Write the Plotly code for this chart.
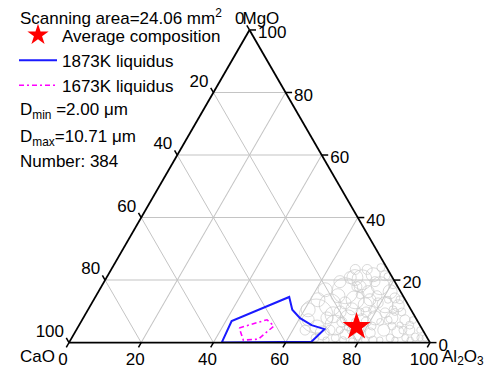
import math
import plotly.graph_objects as go

FONT = "Liberation Sans, Arial, sans-serif"
FS = 17
W, H = 490, 373

# triangle placement on the page (px)
TRI_L, TRI_R, TRI_B = 69.0, 430.0, 342.6
TRI_W = TRI_R - TRI_L
TRI_H = TRI_W * math.sqrt(3) / 2
PX = TRI_W / 100.0  # px per composition unit

# Tick values used on all three edges (wt%)
TICKS = [0, 20, 40, 60, 80, 100]

# Liquidus boundaries, wt% (MgO, Al2O3); CaO is the balance
liq1873_mgo = [0.0, 6.9, 14.6, 10.5, 7.8, 5.6, 4.3, 0.3, 0.0]
liq1873_al2o3 = [42.3, 41.6, 53.7, 56.6, 60.1, 64.4, 68.6, 67.0, 42.3]
liq1673_mgo = [4.7, 7.3, 5.3, 1.1, 0.8, 4.7]
liq1673_al2o3 = [44.8, 51.2, 54.1, 51.9, 47.9, 44.8]

# Average inclusion composition
avg_mgo = [5.1]
avg_al2o3 = [77.1]

# Individual inclusions: MgO, Al2O3 (wt%) and equivalent diameter (um)
incl_mgo = [8.5, 16.6, 12.1, 20.1, 18.2, 21.7, 13.7, 5.6, 3.1, 7.9,
            12.1, 16.3, 12.1, 11.8, 7.9, 7.9, 7.3, 4.0, 3.4, 4.0,
            3.1, 2.4, 2.7, 1.5, 1.5, 4.0, 7.3, 10.8, 9.8, 16.3,
            17.9, 14.3, 9.8, 1.8, 1.5, 1.5, 1.5, 0.8, 0.8, 0.5,
            7.9, 13.7, 15.0, 20.8, 21.4, 15.0, 9.8, 6.6, 9.5, 5.6,
            5.3, 5.3, 4.7, 5.0, 0.8, 7.3, 13.7, 18.5, 24.0, 23.4,
            23.4, 10.5, 6.6, 9.8, 6.6, 4.0, 4.0, 5.6, 13.7, 15.3,
            10.5, 16.9, 19.5, 4.0, 4.0, 6.6, 12.7, 9.8, 7.2, 4.0,
            0.8, 0.8, 0.8, 0.8, 21.1, 19.5, 12.7, 17.9, 13.7, 10.5,
            7.2, 1.5, 5.0, 8.9, 20.8]
incl_al2o3 = [64.2, 68.2, 66.3, 71.1, 77.1, 73.4, 72.4, 70.9, 68.6, 73.4,
              76.0, 80.8, 81.5, 85.3, 80.8, 85.5, 89.4, 92.4, 89.4, 85.2,
              81.9, 78.8, 75.1, 73.0, 67.4, 63.4, 77.5, 73.0, 70.2, 74.7,
              70.8, 83.1, 87.3, 95.0, 96.5, 92.4, 88.2, 85.7, 81.6, 78.1,
              67.5, 62.1, 67.0, 67.5, 76.8, 77.8, 77.4, 72.3, 82.8, 91.6,
              81.3, 86.8, 78.3, 74.8, 70.8, 62.6, 84.8, 80.5, 74.4, 70.9,
              67.6, 78.7, 82.9, 85.4, 75.9, 73.0, 95.2, 88.9, 81.5, 73.0,
              61.0, 62.5, 65.3, 70.3, 76.4, 79.0, 79.3, 75.7, 84.8, 90.5,
              89.9, 94.1, 83.8, 75.5, 77.8, 75.0, 70.1, 71.7, 76.5, 84.5,
              91.7, 97.9, 66.2, 68.7, 68.8]
incl_d = [10.71, 8.20, 6.94, 6.31, 5.68, 4.42, 5.68, 6.31, 4.42, 5.05,
          4.42, 4.42, 5.05, 3.79, 4.42, 3.79, 3.15, 3.15, 3.79, 3.79,
          3.15, 3.15, 3.15, 2.52, 2.52, 3.15, 3.79, 3.79, 3.79, 3.79,
          3.15, 3.15, 2.52, 2.52, 2.00, 2.20, 2.52, 2.00, 2.20, 2.00,
          3.79, 4.42, 4.42, 3.79, 3.15, 3.15, 3.15, 3.15, 3.15, 2.52,
          2.52, 2.52, 2.52, 2.52, 2.00, 3.79, 2.52, 2.52, 2.52, 3.15,
          3.15, 2.20, 2.20, 2.20, 2.20, 2.20, 2.00, 2.00, 2.20, 2.52,
          4.42, 4.42, 3.79, 3.15, 3.15, 3.15, 3.15, 2.52, 2.52, 2.52,
          2.00, 2.00, 2.52, 2.20, 2.52, 3.15, 3.79, 3.79, 3.79, 2.52,
          2.20, 2.00, 4.42, 5.05, 5.05]

PX_PER_UM = 3.17  # marker diameter in px per um


def balance(mgo, al2o3):
    return [100 - m - a for m, a in zip(mgo, al2o3)]


def flat(mgo, al2o3):
    """Ternary composition -> flat frame (x along CaO-Al2O3 edge, y up)."""
    return al2o3 + mgo / 2.0, mgo * math.sqrt(3) / 2.0


fig = go.Figure()

# inclusions as open circles scaled by diameter
fig.add_trace(go.Scatterternary(
    a=incl_mgo, c=incl_al2o3, b=balance(incl_mgo, incl_al2o3),
    mode="markers", showlegend=False, hoverinfo="skip",
    marker=dict(symbol="circle-open", size=[d * PX_PER_UM for d in incl_d],
                color="#cbcbcb", line=dict(width=1, color="#cbcbcb")),
))

fig.add_trace(go.Scatterternary(
    a=liq1873_mgo, c=liq1873_al2o3, b=balance(liq1873_mgo, liq1873_al2o3),
    mode="lines", name="1873K liquidus", legendrank=2,
    line=dict(color="#1a1aff", width=2),
))
fig.add_trace(go.Scatterternary(
    a=liq1673_mgo, c=liq1673_al2o3, b=balance(liq1673_mgo, liq1673_al2o3),
    mode="lines", name="1673K liquidus", legendrank=3,
    line=dict(color="#ff00ff", width=1.6, dash="5px,3px,2px,3px"),
))
fig.add_trace(go.Scatterternary(
    a=avg_mgo, c=avg_al2o3, b=balance(avg_mgo, avg_al2o3),
    mode="markers", name="Average composition", legendrank=1,
    marker=dict(symbol="star", size=21, color="#ff0000", line=dict(width=0)),
))

# ---- edge scales drawn in a flat frame that shares the triangle geometry ----
s3 = math.sqrt(3) / 2.0
tl = 1.5  # tick length, composition units
tx, ty = [], []
for v in TICKS:
    # left edge (CaO scale), tick continues the iso-CaO line
    x, y = flat(100 - v, 0)
    tx += [x, x - 0.5 * tl, None]; ty += [y, y + s3 * tl, None]
    # bottom edge (Al2O3 scale), tick continues the iso-Al2O3 line
    x, y = flat(0, v)
    tx += [x, x - 0.5 * tl, None]; ty += [y, y - s3 * tl, None]
    # right edge (MgO scale), tick continues the iso-MgO line
    x, y = flat(v, 100 - v)
    tx += [x, x + 1.2 * tl, None]; ty += [y, y, None]
fig.add_trace(go.Scatter(
    x=tx, y=ty, mode="lines", showlegend=False, hoverinfo="skip",
    line=dict(color="black", width=1.5), cliponaxis=False,
))

tfont = dict(family=FONT, size=FS, color="black")
lab = [str(v) for v in TICKS]


def text_trace(pts, texts, pos, dx_px, dy_px):
    xs = [p[0] + dx_px / PX for p in pts]
    ys = [p[1] - dy_px / PX for p in pts]
    return go.Scatter(x=xs, y=ys, mode="text", text=texts, textposition=pos,
                      textfont=tfont, showlegend=False, hoverinfo="skip",
                      cliponaxis=False)


fig.add_trace(text_trace([flat(100 - v, 0) for v in TICKS], lab, "middle left", -5, -10))
fig.add_trace(text_trace([flat(0, v) for v in TICKS], lab, "middle center", -6, 18))
fig.add_trace(text_trace([flat(v, 100 - v) for v in TICKS], lab, "middle right", 8.5, 4))

# corner titles
fig.add_trace(text_trace([flat(100, 0)], ["MgO"], "middle right", -7, -10.5))
fig.add_trace(text_trace([flat(0, 0)], ["CaO"], "middle left", -14, 15))
fig.add_trace(text_trace([flat(0, 100)], ["Al<sub>2</sub>O<sub>3</sub>"], "middle right", 12, 15))

axis_common = dict(
    showgrid=True, gridcolor="#c4c4c4", gridwidth=1,
    showline=True, linecolor="black", linewidth=1.8,
    ticks="", showticklabels=False, tickvals=[20, 40, 60, 80],
    title=dict(text=""), min=0,
)

fig.update_layout(
    width=W, height=H,
    margin=dict(l=0, r=0, t=0, b=0),
    paper_bgcolor="white", plot_bgcolor="rgba(0,0,0,0)",
    font=dict(family=FONT, size=FS, color="black"),
    ternary=dict(
        sum=100,
        bgcolor="rgba(0,0,0,0)",
        domain=dict(x=[TRI_L / W, TRI_R / W],
                    y=[(H - TRI_B) / H, (H - TRI_B + TRI_H) / H]),
        aaxis=axis_common, baxis=axis_common, caxis=axis_common,
    ),
    xaxis=dict(visible=False, domain=[0, 1], fixedrange=True,
               range=[-TRI_L / PX, (W - TRI_L) / PX]),
    yaxis=dict(visible=False, domain=[0, 1], fixedrange=True,
               range=[-(H - TRI_B) / PX, TRI_B / PX]),
    legend=dict(
        x=14 / W, y=1 - 17.5 / H, xanchor="left", yanchor="top",
        bgcolor="rgba(0,0,0,0)", borderwidth=0, itemwidth=38,
        font=dict(family=FONT, size=FS, color="black"),
        traceorder="normal",
    ),
    annotations=[
        dict(text="Scanning area=24.06 mm<sup>2</sup>", x=18 / W, y=1 - 16.5 / H),
        dict(text="D<sub>min</sub> =2.00 \u03bcm", x=18 / W, y=1 - 111 / H),
        dict(text="D<sub>max</sub>=10.71 \u03bcm", x=18 / W, y=1 - 138 / H),
        dict(text="Number: 384", x=18 / W, y=1 - 161.5 / H),
    ],
)
for ann in fig.layout.annotations:
    ann.update(xref="paper", yref="paper", xanchor="left", yanchor="middle",
               showarrow=False, font=dict(family=FONT, size=FS, color="black"))

fig.write_html("out.html")
